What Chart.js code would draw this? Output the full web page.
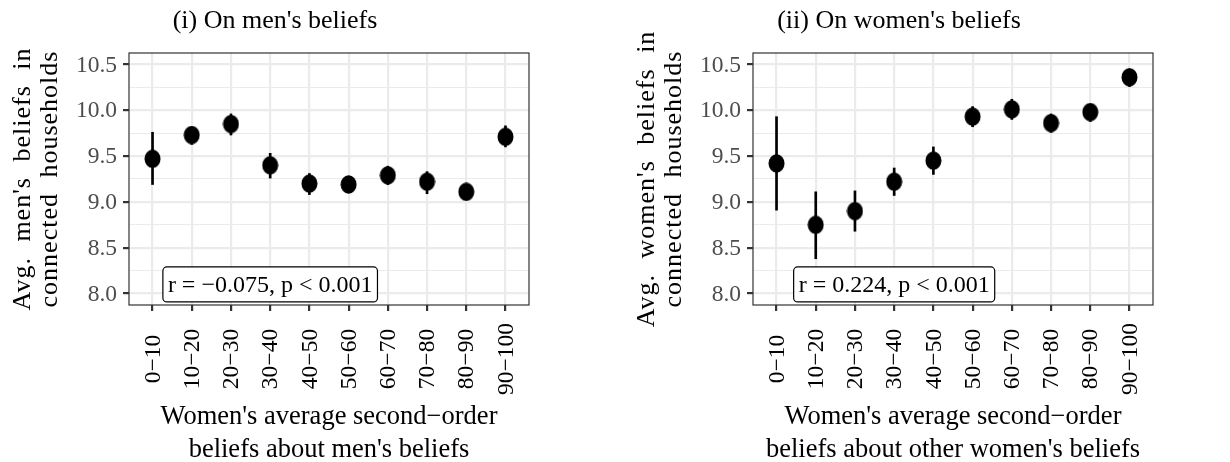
<!DOCTYPE html>
<html>
<head>
<meta charset="utf-8">
<script src="https://cdn.jsdelivr.net/npm/chart.js@4.4.1/dist/chart.umd.min.js"></script>
<style>
  html, body { margin: 0; padding: 0; background: #fff; }
  .wrap { display: flex; width: 1230px; height: 462px; }
  canvas { display: block; }
</style>
</head>
<body>
<div class="wrap">
  <canvas id="menChart" width="615" height="462"></canvas>
  <canvas id="womenChart" width="615" height="462"></canvas>
</div>
<script>
// categorias (faixas de crença de segunda ordem)
const categories = ['0−10', '10−20', '20−30', '30−40', '40−50', '50−60', '60−70', '70−80', '80−90', '90−100'];

// painel (i): crenças dos homens
const menMean = [9.47, 9.73, 9.85, 9.40, 9.20, 9.19, 9.29, 9.22, 9.11, 9.71];
const menLow  = [9.19, 9.63, 9.73, 9.26, 9.08, 9.10, 9.19, 9.09, 9.02, 9.60];
const menHigh = [9.76, 9.82, 9.96, 9.53, 9.31, 9.28, 9.39, 9.33, 9.19, 9.83];

// painel (ii): crenças das mulheres
const womenMean = [9.42, 8.75, 8.90, 9.22, 9.45, 9.93, 10.01, 9.86, 9.98, 10.36];
const womenLow  = [8.91, 8.38, 8.68, 9.07, 9.30, 9.82, 9.90, 9.76, 9.88, 10.26];
const womenHigh = [9.93, 9.11, 9.12, 9.37, 9.60, 10.04, 10.12, 9.96, 10.07, 10.45];

const yTicks = [8.0, 8.5, 9.0, 9.5, 10.0, 10.5];
const yMinorTicks = [8.25, 8.75, 9.25, 9.75, 10.25];

const FONT = "'Liberation Serif', 'Times New Roman', serif";

// marcador levemente elíptico, como no original
const dot = document.createElement('canvas');
dot.width = 17; dot.height = 19;
{
    const c = dot.getContext('2d');
    c.fillStyle = '#000';
    c.beginPath();
    c.ellipse(8.5, 9.5, 8, 9.2, 0, 0, Math.PI * 2);
    c.fill();
}

function txt(ctx, s, x, y, rot) {
    ctx.save();
    ctx.translate(x, y);
    if (rot) ctx.rotate(rot);
    ctx.fillText(s, 0, 0);
    ctx.restore();
}

const decorPlugin = {
    id: 'decor',
    afterDraw(chart, args, o) {
        const ctx = chart.ctx;
        const a = chart.chartArea;
        const xs = chart.scales.x, ys = chart.scales.y;
        const cx = (a.left + a.right) / 2;
        const cy = (a.top + a.bottom) / 2;
        ctx.save();

        // caixa do painel
        ctx.strokeStyle = '#333';
        ctx.lineWidth = 1.2;
        ctx.strokeRect(a.left, a.top, a.right - a.left, a.bottom - a.top);

        // rótulos do eixo y
        ctx.fillStyle = '#4d4d4d';
        ctx.font = `23.5px ${FONT}`;
        ctx.textAlign = 'right';
        ctx.textBaseline = 'middle';
        yTicks.forEach(v => txt(ctx, v.toFixed(1), a.left - 12, ys.getPixelForValue(v) + 1));

        // rótulos do eixo x (rotacionados)
        ctx.fillStyle = '#000';
        ctx.textAlign = 'center';
        categories.forEach((c, i) => txt(ctx, c, xs.getPixelForValue(i) + 1, 359, -Math.PI / 2));

        // título do eixo x
        ctx.font = `26.5px ${FONT}`;
        ctx.textBaseline = 'alphabetic';
        txt(ctx, o.xTitle[0], cx, 424);
        txt(ctx, o.xTitle[1], cx, 457);

        // título do eixo y (espaçamento largo entre palavras, como no original)
        ctx.font = `26px ${FONT}`;
        ctx.textBaseline = 'middle';
        ctx.letterSpacing = '1px';
        ctx.wordSpacing = '8px';
        txt(ctx, o.yTitle[0], a.left - 106, cy, -Math.PI / 2);
        txt(ctx, o.yTitle[1], a.left - 79, cy, -Math.PI / 2);
        ctx.letterSpacing = '0px';
        ctx.wordSpacing = '0px';

        // título do gráfico
        ctx.font = `26px ${FONT}`;
        txt(ctx, o.title, a.left + 146, 21);

        // caixa com a correlação
        ctx.font = `24px ${FONT}`;
        const tw = ctx.measureText(o.note).width;
        const bx = xs.getPixelForValue(o.noteAt[0]);
        const by = ys.getPixelForValue(o.noteAt[1]);
        const w = tw + 10, h = 35;
        ctx.beginPath();
        ctx.roundRect(bx - w / 2, by - h / 2, w, h, 4);
        ctx.fillStyle = '#fff';
        ctx.fill();
        ctx.strokeStyle = '#000';
        ctx.lineWidth = 1.2;
        ctx.stroke();
        ctx.fillStyle = '#000';
        txt(ctx, o.note, bx, by + 1);
        ctx.restore();
    }
};

function makeChart(id, mean, low, high, leftWidth, rightPad, decor) {
    return new Chart(document.getElementById(id), {
        type: 'scatter',
        data: {
            datasets: [
                {
                    type: 'bar',
                    data: categories.map((c, i) => ({ x: i, y: [low[i], high[i]] })),
                    backgroundColor: '#000',
                    barThickness: 2,
                    order: 2
                },
                {
                    data: categories.map((c, i) => ({ x: i, y: mean[i] })),
                    pointStyle: dot,
                    backgroundColor: '#000',
                    borderWidth: 0,
                    order: 1
                }
            ]
        },
        options: {
            responsive: false,
            animation: false,
            devicePixelRatio: 1,
            layout: { padding: { top: 53, right: rightPad, left: 0, bottom: 0 } },
            plugins: { legend: { display: false }, tooltip: { enabled: false }, decor: decor },
            scales: {
                x: {
                    type: 'linear',
                    min: -0.6,
                    max: 9.6,
                    offset: false,
                    afterBuildTicks: s => { s.ticks = categories.map((c, i) => ({ value: i })); },
                    afterFit: s => { s.height = 462 - 305; },
                    ticks: { display: false },
                    grid: { color: '#ebebeb', lineWidth: 2.2, tickLength: 6, tickColor: '#333', offset: false },
                    border: { display: false }
                },
                y: {
                    min: 7.875,
                    max: 10.625,
                    afterBuildTicks: s => {
                        s.ticks = [...yTicks, ...yMinorTicks].sort((p, q) => p - q).map(v => ({ value: v }));
                    },
                    afterFit: s => { s.width = leftWidth; },
                    ticks: { display: false },
                    grid: {
                        color: '#ebebeb',
                        lineWidth: c => yTicks.includes(c.tick.value) ? 2.2 : 1.1,
                        tickLength: 6,
                        tickColor: c => yTicks.includes(c.tick.value) ? '#333' : 'rgba(0,0,0,0)'
                    },
                    border: { display: false }
                }
            }
        },
        plugins: [decorPlugin]
    });
}

makeChart('menChart', menMean, menLow, menHigh, 129, 86, {
    title: "(i) On men's beliefs",
    yTitle: ["Avg. men's beliefs in", 'connected households'],
    xTitle: ['Women\'s average second−order', "beliefs about men's beliefs"],
    note: 'r = −0.075, p < 0.001',
    noteAt: [3, 8.1]
});

makeChart('womenChart', womenMean, womenLow, womenHigh, 138, 77, {
    title: "(ii) On women's beliefs",
    yTitle: ["Avg. women's beliefs in", 'connected households'],
    xTitle: ['Women\'s average second−order', "beliefs about other women's beliefs"],
    note: 'r = 0.224, p < 0.001',
    noteAt: [3, 8.1]
});
</script>
</body>
</html>
